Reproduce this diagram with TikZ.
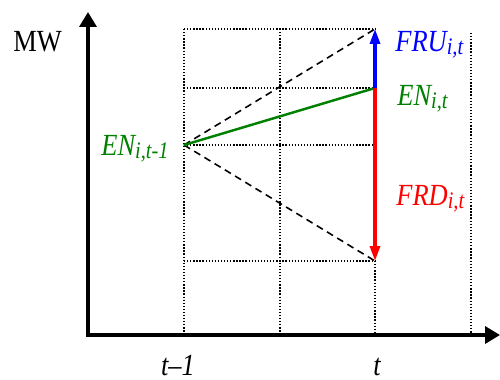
\documentclass[tikz,border=0pt]{standalone}
\usepackage{fontspec}
\setmainfont{Liberation Serif}[FakeStretch=0.86]
\usepackage{xcolor}
\usepackage{tikz}
\usetikzlibrary{arrows.meta,positioning,calc}

\definecolor{engreen}{RGB}{0,128,0}
\newcommand{\lsub}[1]{\raisebox{-2.2pt}{\fontsize{13.5}{14}\selectfont #1}}

\begin{document}
\begin{tikzpicture}[
  x=0.02cm, y=-0.02cm,
  axis/.style={line width=2pt, -{Triangle[length=3mm, width=3.4mm]}},
  gridline/.style={line width=0.75pt, dash pattern=on 0.75pt off 1pt},
  bound/.style={line width=0.9pt, dash pattern=on 4pt off 2.8pt},
  arr/.style={line width=1.8pt, -{Triangle[length=3mm, width=2mm]}},
  lbl/.style={font=\fontsize{17.5}{20}\selectfont\itshape, inner sep=0pt},
]
  \useasboundingbox (0,0) rectangle (500,379);

  % Key points
  \coordinate (origin) at (88,335);
  \coordinate (ytop) at (88,12);
  \coordinate (xend) at (500,335);
  \coordinate (start) at (184,145);
  \coordinate (en) at (375,88);
  \coordinate (fru) at (375,29);
  \coordinate (frd) at (375,261);

  % Dotted grid
  \draw[gridline] (184,29) -- (375,29);
  \draw[gridline] (184,88) -- (375,88);
  \draw[gridline] (184,145) -- (375,145);
  \draw[gridline] (184,261) -- (375,261);
  \draw[gridline] (184,29) -- (184,335);
  \draw[gridline] (280,29) -- (280,335);
  \draw[gridline] (375,261) -- (375,335);
  \draw[gridline] (471,33) -- (471,335);

  % Axes
  \draw[axis] (origin) -- (ytop);
  \draw[axis] ([xshift=-1pt]origin) -- (xend);

  % Bounds and trajectory
  \draw[bound] (start) -- (fru);
  \draw[bound] (start) -- (frd);
  \draw[engreen, line width=1.4pt] (start) -- (en);
  \draw[arr, blue] (en) -- (fru);
  \draw[arr, red] (en) -- (frd);

  % Labels
  \node[lbl, font=\fontsize{17.5}{20}\selectfont, anchor=base west] (mw) at (13,51) {MW};
  \node[lbl, engreen, anchor=base east] (enprev) at (169,155) {EN\lsub{i,t-1}};
  \node[lbl, blue, anchor=base west] (frulbl) at (395,51) {FRU\lsub{i,t}};
  \node[lbl, engreen, anchor=base west] (enlbl) at (397,105) {EN\lsub{i,t}};
  \node[lbl, red, anchor=base west] (frdlbl) at (396,205) {FRD\lsub{i,t}};
  \node[lbl, anchor=base] (tprev) at (178,375) {t--1};
  \node[lbl, anchor=base] (tnow) at (377,375) {t};
\end{tikzpicture}
\end{document}
